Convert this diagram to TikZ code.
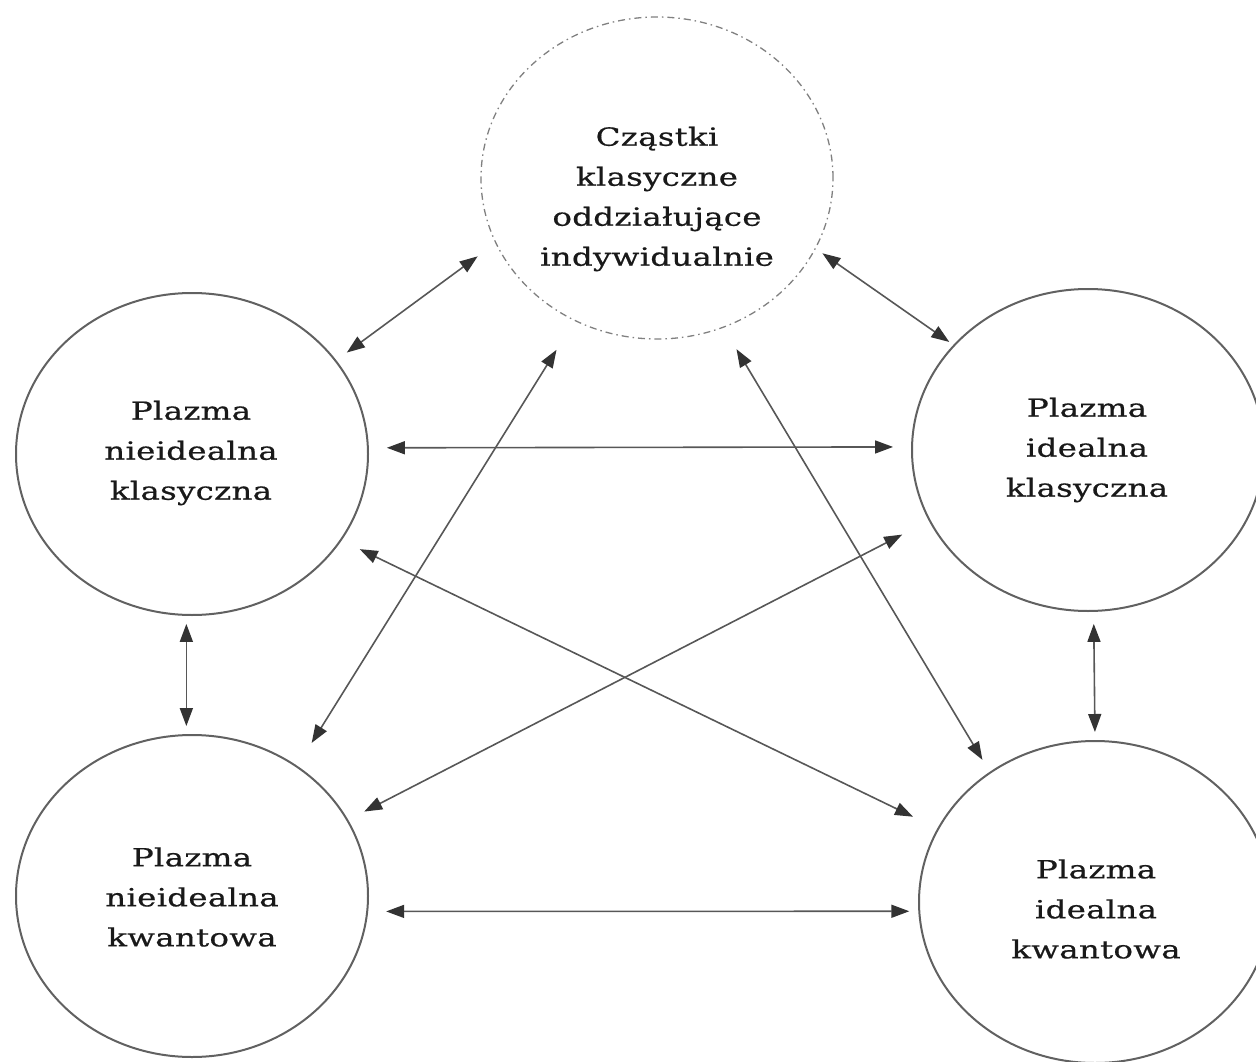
\documentclass[tikz,border=0pt]{standalone}
\usepackage{fontspec}
\newfontfamily\labfont{DejaVu Serif}[FakeStretch=1.3,LetterSpace=1,FakeBold=0.6]
\usetikzlibrary{shapes.geometric,arrows.meta}
\tikzset{
  bubble/.style={ellipse,draw=black!62,line width=2pt,inner sep=0pt,minimum width=352pt,minimum height=322pt},
  dashbubble/.style={bubble,draw=black!50,line width=1.3pt,dash pattern=on 7pt off 4pt on 1.5pt off 4pt},
  txt/.style={align=center,text=black!90,font=\labfont\fontsize{25}{40}\selectfont,inner sep=0pt},
  link/.style={draw=black!66,line width=1.6pt,
    {Triangle[length=18pt,width=13pt,color=black!80]}-{Triangle[length=18pt,width=13pt,color=black!80]}}
}
\begin{document}
\begin{tikzpicture}[x=1pt,y=-1pt]
\useasboundingbox (0,0) rectangle (1256,1062);
\clip (0,0) rectangle (1256,1062);
\node[dashbubble] (T) at (657,178) {};
\node[bubble] (LM) at (192,454) {};
\node[bubble] (RM) at (1088,450) {};
\node[bubble] (LB) at (192,896) {};
\node[bubble] (RB) at (1095,902) {};
\node[txt] (Tt) at (657,199) {Cząstki\\klasyczne\\oddziałujące\\indywidualnie};
\node[txt] (LMt) at (191,453) {Plazma\\nieidealna\\klasyczna};
\node[txt] (RMt) at (1087,450) {Plazma\\idealna\\klasyczna};
\node[txt] (LBt) at (192,897) {Plazma\\nieidealna\\kwantowa};
\node[txt] (RBt) at (1096,909) {Plazma\\idealna\\kwantowa};
% connectors
\draw[link,shorten <=22pt,shorten >=13pt] (T.202) -- (LM.33);
\draw[link,shorten <=8pt,shorten >=5pt] (T.336) -- (RM.142);
\draw[link,shorten <=18pt,shorten >=18pt] (LM.2) -- (RM.179);
\draw[link,shorten <=8pt,shorten >=8pt] (LM.268) -- (LB.92);
\draw[link,shorten <=12pt,shorten >=8pt] (RM.272) -- (RB.90);
\draw[link,shorten <=18pt,shorten >=9pt] (LB.355) -- (RB.183);
\draw[link,shorten <=34pt,shorten >=27pt] (T.240) -- (LB.51);
\draw[link,shorten <=25pt,shorten >=14pt] (T.294) -- (RB.129);
\draw[link,shorten <=20pt,shorten >=27pt] (LM.330) -- (RB.155);
\draw[link,shorten <=30pt,shorten >=18pt] (RM.204) -- (LB.26);
\end{tikzpicture}
\end{document}
